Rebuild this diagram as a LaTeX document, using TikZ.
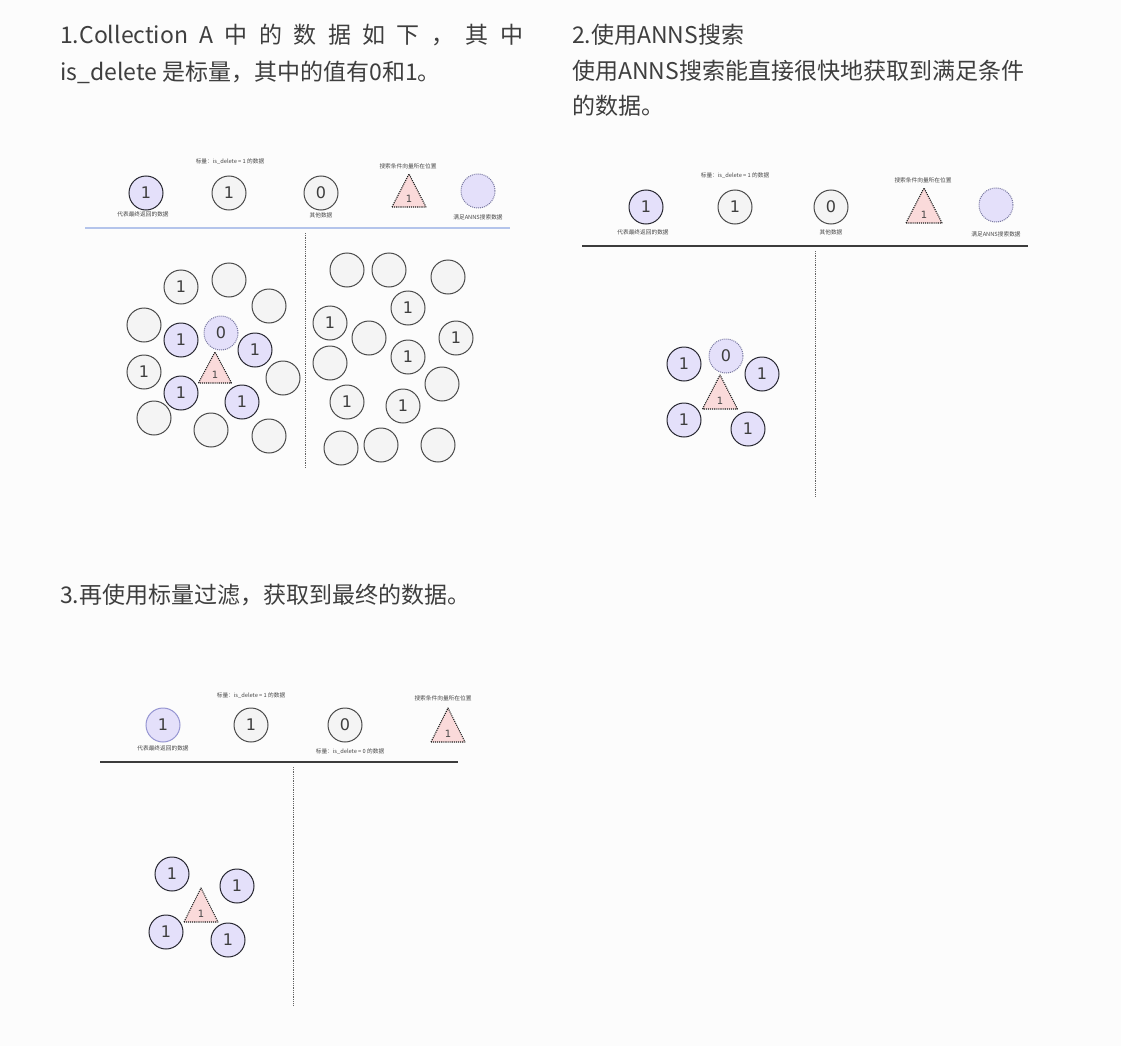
\documentclass[tikz,border=0pt]{standalone}
\usepackage{fontspec}
\setmainfont{Noto Sans CJK SC}
\newfontfamily\djfont{DejaVu Sans}
\definecolor{bgc}{RGB}{252,252,252}
\definecolor{headc}{RGB}{62,62,62}
\definecolor{labc}{RGB}{70,70,70}
\definecolor{greyfill}{RGB}{244,244,244}
\definecolor{circd}{RGB}{75,75,75}
\definecolor{lav}{RGB}{228,224,250}
\definecolor{lavd}{RGB}{40,40,50}
\definecolor{dotc}{RGB}{120,120,160}
\definecolor{pinkf}{RGB}{250,218,218}
\definecolor{trid}{RGB}{30,30,30}
\definecolor{bluel}{RGB}{180,196,235}
\definecolor{blued}{RGB}{150,150,210}
\definecolor{sepc}{RGB}{60,60,60}
\definecolor{vdot}{RGB}{100,100,100}
\newcommand\mytri[5]{%
  \draw[tri] (#2-#5,#4) -- (#2,#3) -- (#2+#5,#4) -- cycle;
  \node[tritext] (#1) at (#2,#4-8) {1};}
\begin{document}
\begin{tikzpicture}[x=1pt,y=-1pt,
  gc/.style={circle,draw=circd,fill=greyfill,line width=1pt,minimum size=34pt,inner sep=0pt,
    font=\djfont\fontsize{16}{16}\selectfont,text=headc},
  pc/.style={gc,fill=lav,draw=lavd},
  dc/.style={gc,fill=lav,draw=dotc,densely dotted},
  tri/.style={fill=pinkf,draw=trid,densely dotted,line width=1.1pt,line join=round},
  tritext/.style={font=\djfont\fontsize{10}{10}\selectfont,text=labc,inner sep=0pt},
  lab/.style={font=\fontsize{5.7}{6}\selectfont,text=labc,inner sep=0pt},
  head/.style={font=\fontsize{23}{27}\selectfont,text=headc,inner sep=0pt,anchor=west},
  sep/.style={draw=sepc,line width=1.2pt},
  vsep/.style={draw=vdot,densely dotted,line width=0.8pt}]
\useasboundingbox (0,0) rectangle (1121,1046);
\fill[bgc] (0,0) rectangle (1121,1046);

% ---------- headings
\node[head] (h1a) at (60,35) {\makebox[463pt][s]{1.Collection\hfill A\hfill 中\hfill 的\hfill 数\hfill 据\hfill 如\hfill 下\hfill ，\hfill 其\hfill 中}};
\node[head] (h1b) at (60,72) {is\_delete 是标量，其中的值有0和1。};
\node[head] (h2a) at (572,35) {2.使用ANNS搜索};
\node[head] (h2b) at (572,71) {使用ANNS搜索能直接很快地获取到满足条件};
\node[head] (h2c) at (572,106) {的数据。};
\node[head] (h3a) at (60,595) {3.再使用标量过滤，获取到最终的数据。};

% ---------- panel 1 legend
\node[pc] (l1a) at (146,193) {1};
\node[gc] (l1b) at (229,193) {1};
\node[gc] (l1c) at (321,193) {0};
\mytri{l1t}{409}{174}{207}{17}
\node[dc] (l1d) at (478,191) {};
\node[lab] (t1a) at (143,214) {代表最终返回的数据};
\node[lab] (t1b) at (230,161) {标量：is\_delete = 1 的数据};
\node[lab] (t1c) at (321,215) {其他数据};
\node[lab] (t1d) at (408,166) {搜索条件向量所在位置};
\node[lab] (t1e) at (478,217) {满足ANNS搜索数据};
\coordinate (s1a) at (85,228);
\coordinate (s1b) at (510,228);
\draw[draw=bluel,line width=1.2pt] (s1a) -- (s1b);
\coordinate (v1a) at (305,233);
\coordinate (v1b) at (305,468);
\draw[vsep] (v1a) -- (v1b);

% ---------- panel 1 cluster left
\node[gc] (a1) at (181,287) {1};
\node[gc] (a2) at (144,372) {1};
\node[gc] (a3) at (229,280) {};
\node[gc] (a4) at (269,306) {};
\node[gc] (a5) at (144,325) {};
\node[gc] (a6) at (283,378) {};
\node[gc] (a7) at (154,418) {};
\node[gc] (a8) at (211,430) {};
\node[gc] (a9) at (269,436) {};
\node[pc] (a10) at (181,340) {1};
\node[pc] (a11) at (255,350) {1};
\node[pc] (a12) at (181,393) {1};
\node[pc] (a13) at (242,402) {1};
\node[dc] (a14) at (221,333) {0};
\mytri{at}{215}{352}{383}{16.5}

% ---------- panel 1 cluster right
\node[gc] (b1) at (347,270) {};
\node[gc] (b2) at (389,270) {};
\node[gc] (b3) at (448,277) {};
\node[gc] (b4) at (369,338) {};
\node[gc] (b5) at (330,363) {};
\node[gc] (b6) at (442,384) {};
\node[gc] (b7) at (341,448) {};
\node[gc] (b8) at (381,445) {};
\node[gc] (b9) at (438,445) {};
\node[gc] (b10) at (408,308) {1};
\node[gc] (b11) at (330,323) {1};
\node[gc] (b12) at (456,338) {1};
\node[gc] (b13) at (408,357) {1};
\node[gc] (b14) at (347,402) {1};
\node[gc] (b15) at (403,406) {1};

% ---------- panel 2 legend
\node[pc] (l2a) at (646,207) {1};
\node[gc] (l2b) at (735,207) {1};
\node[gc] (l2c) at (831,207) {0};
\mytri{l2t}{924}{188}{223}{18}
\node[dc] (l2d) at (996,205) {};
\node[lab] (t2a) at (643,232) {代表最终返回的数据};
\node[lab] (t2b) at (735,175) {标量：is\_delete = 1 的数据};
\node[lab] (t2c) at (831,232) {其他数据};
\node[lab] (t2d) at (923,180) {搜索条件向量所在位置};
\node[lab] (t2e) at (996,234) {满足ANNS搜索数据};
\coordinate (s2a) at (582,246);
\coordinate (s2b) at (1028,246);
\draw[sep] (s2a) -- (s2b);
\coordinate (v2a) at (815,251);
\coordinate (v2b) at (815,497);
\draw[vsep] (v2a) -- (v2b);

% ---------- panel 2 cluster
\node[pc] (c1) at (684,364) {1};
\node[dc] (c2) at (726,356) {0};
\node[pc] (c3) at (762,374) {1};
\node[pc] (c4) at (684,420) {1};
\node[pc] (c5) at (748,429) {1};
\mytri{ct}{720}{375}{409}{17.5}

% ---------- panel 3 legend
\node[pc,draw=blued] (l3a) at (163,725) {1};
\node[gc] (l3b) at (251,725) {1};
\node[gc] (l3c) at (345,725) {0};
\mytri{l3t}{448}{708}{742}{17}
\node[lab] (t3a) at (163,748) {代表最终返回的数据};
\node[lab] (t3b) at (251,695) {标量：is\_delete = 1 的数据};
\node[lab] (t3c) at (350,751) {标量：is\_delete = 0 的数据};
\node[lab] (t3d) at (443,698) {搜索条件向量所在位置};
\coordinate (s3a) at (100,762);
\coordinate (s3b) at (458,762);
\draw[sep] (s3a) -- (s3b);
\coordinate (v3a) at (293,767);
\coordinate (v3b) at (293,1005);
\draw[vsep] (v3a) -- (v3b);

% ---------- panel 3 cluster
\node[pc] (d1) at (172,874) {1};
\node[pc] (d2) at (237,886) {1};
\node[pc] (d3) at (166,932) {1};
\node[pc] (d4) at (228,940) {1};
\mytri{dt}{201}{888}{922}{17}
\end{tikzpicture}
\end{document}
